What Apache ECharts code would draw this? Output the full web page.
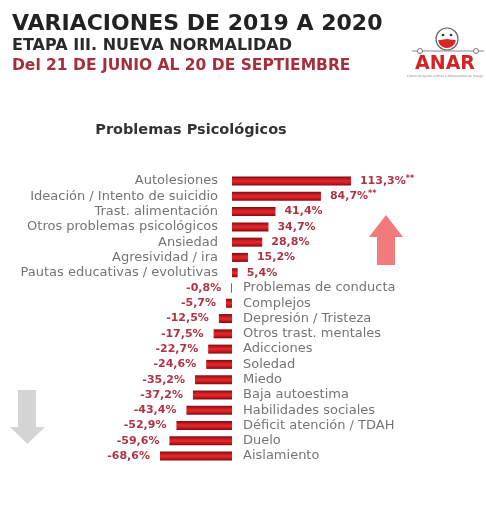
<!DOCTYPE html>
<html>
<head>
<meta charset="utf-8">
<title>Problemas Psicológicos</title>
<script src="https://cdn.jsdelivr.net/npm/echarts@6/dist/echarts.min.js"></script>
<style>
  html, body { margin: 0; padding: 0; background: #ffffff; }
  #chart { width: 486px; height: 505px; }
</style>
</head>
<body>
<div id="chart"></div>
<script>
// Categories, top to bottom
const categories = [
  'Autolesiones',
  'Ideación / Intento de suicidio',
  'Trast. alimentación',
  'Otros problemas psicológicos',
  'Ansiedad',
  'Agresividad / ira',
  'Pautas educativas / evolutivas',
  'Problemas de conducta',
  'Complejos',
  'Depresión / Tristeza',
  'Otros trast. mentales',
  'Adicciones',
  'Soledad',
  'Miedo',
  'Baja autoestima',
  'Habilidades sociales',
  'Déficit atención / TDAH',
  'Duelo',
  'Aislamiento'
];

// Percentage change 2019 -> 2020
const changes = [
  113.3, 84.7, 41.4, 34.7, 28.8, 15.2, 5.4,
  -0.8, -5.7, -12.5, -17.5, -22.7, -24.6, -35.2, -37.2, -43.4, -52.9, -59.6, -68.6
];

// Significance markers appended to the value labels
const marks = ['**', '**', '', '', '', '', '', '', '', '', '', '', '', '', '', '', '', '', ''];

const fmt = (v, i) => '{v|' + v.toFixed(1).replace('.', ',') + '%}' + (marks[i] ? '{m|' + marks[i] + '}' : '');

const barGradient = new echarts.graphic.LinearGradient(0, 0, 0, 1, [
  { offset: 0, color: '#7e0c10' },
  { offset: 0.45, color: '#e4262b' },
  { offset: 0.6, color: '#e02328' },
  { offset: 1, color: '#86090d' }
]);

const barData = changes.map((v, i) => ({
  value: v,
  label: {
    position: v >= 0 ? 'right' : 'left',
    distance: v >= 0 ? 9 : 10,
    formatter: fmt(v, i)
  }
}));

const nameData = categories.map((c, i) => ({
  value: [0, c],
  label: {
    position: changes[i] >= 0 ? 'left' : 'right',
    distance: changes[i] >= 0 ? 14 : 11
  }
}));

const chart = echarts.init(document.getElementById('chart'), null, { renderer: 'canvas' });

chart.setOption({
  backgroundColor: '#ffffff',
  animation: false,
  grid: { left: 127, right: 96.5, top: 173.4, bottom: 41.3, containLabel: false },
  xAxis: {
    type: 'value', min: -100, max: 150,
    show: false
  },
  yAxis: {
    type: 'category', data: categories, inverse: true,
    show: false
  },
  series: [
    {
      type: 'bar',
      data: barData,
      barWidth: 9,
      itemStyle: { color: barGradient },
      label: {
        show: true,
        rich: {
          v: { color: '#ad3444', fontFamily: 'DejaVu Sans', fontSize: 11, fontWeight: 'bold' },
          m: { color: '#ad3444', fontFamily: 'DejaVu Sans', fontSize: 8, fontWeight: 'bold', verticalAlign: 'top', padding: [0, 0, 4, 0] }
        }
      }
    },
    {
      type: 'scatter',
      data: nameData,
      symbolSize: 0,
      silent: true,
      label: {
        show: true,
        formatter: p => p.value[1],
        color: '#505050',
        fontFamily: 'DejaVu Sans',
        fontSize: 13
      }
    }
  ],
  graphic: [
    { type: 'text', left: 12, top: 13, style: { text: 'VARIACIONES DE 2019 A 2020', fontFamily: 'DejaVu Sans', fontWeight: 'bold', fontSize: 22, fill: '#222222' } },
    { type: 'text', left: 12, top: 38, style: { text: 'ETAPA III. NUEVA NORMALIDAD', fontFamily: 'DejaVu Sans', fontWeight: 'bold', fontSize: 16, fill: '#2a2a2a' } },
    { type: 'text', left: 12, top: 58, style: { text: 'Del 21 DE JUNIO AL 20 DE SEPTIEMBRE', fontFamily: 'DejaVu Sans', fontWeight: 'bold', fontSize: 15.5, fill: '#a3303c' } },
    { type: 'text', x: 191, y: 123, style: { text: 'Problemas Psicológicos', textAlign: 'center', fontFamily: 'DejaVu Sans', fontWeight: 'bold', fontSize: 14.5, fill: '#333333' } },

    // logo: face with mask, rope line and name
    { type: 'line', shape: { x1: 412, y1: 51, x2: 484, y2: 51 }, style: { stroke: '#8a8a8a', lineWidth: 1 } },
    { type: 'circle', shape: { cx: 420, cy: 51, r: 2.5 }, style: { fill: '#ffffff', stroke: '#777777', lineWidth: 1 } },
    { type: 'circle', shape: { cx: 476, cy: 51, r: 2.5 }, style: { fill: '#ffffff', stroke: '#777777', lineWidth: 1 } },
    { type: 'circle', shape: { cx: 447, cy: 39, r: 11 }, style: { fill: '#ffffff', stroke: '#666666', lineWidth: 1.2 } },
    { type: 'sector', shape: { cx: 447, cy: 39, r0: 0, r: 9, startAngle: 0.15, endAngle: Math.PI - 0.15 }, style: { fill: '#d9262b' } },
    { type: 'circle', shape: { cx: 443, cy: 35, r: 1.3 }, style: { fill: '#333333' } },
    { type: 'circle', shape: { cx: 451, cy: 35, r: 1.3 }, style: { fill: '#333333' } },
    { type: 'text', x: 445, y: 55, style: { text: 'ANAR', textAlign: 'center', fontFamily: 'DejaVu Sans', fontWeight: 'bold', fontSize: 19, fill: '#d42327' } },
    { type: 'text', x: 445, y: 75, style: { text: 'Centro de Ayuda a Niños y Adolescentes en Riesgo', textAlign: 'center', fontFamily: 'DejaVu Sans', fontSize: 3, fill: '#888888' } },

    // up arrow (increases)
    { type: 'polygon', shape: { points: [[386, 215], [403, 237], [395, 237], [395, 265], [377, 265], [377, 237], [369, 237]] }, style: { fill: '#f17a7c' } },
    // down arrow (decreases)
    { type: 'polygon', shape: { points: [[18, 390], [36, 390], [36, 427], [45, 427], [27.5, 444], [10, 427], [18, 427]] }, style: { fill: '#d4d4d4' } }
  ]
});
</script>
</body>
</html>
